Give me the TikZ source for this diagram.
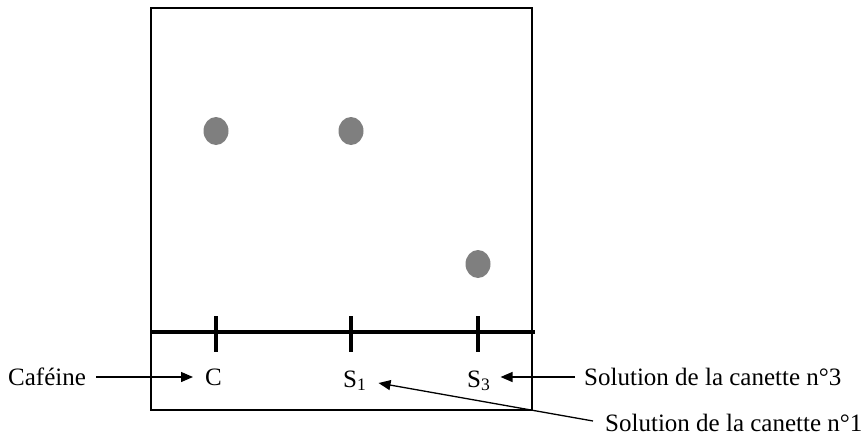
\documentclass[tikz,border=0pt]{standalone}
\usepackage{fontspec}
\setmainfont{Liberation Serif}
\usetikzlibrary{arrows.meta,calc}
\definecolor{spotgray}{HTML}{7F7F7F}
\tikzset{
  lbl/.style={inner sep=0pt, font=\fontsize{25}{30}\selectfont},
  arr/.style={line width=1.3pt, -{Triangle[length=12pt,width=10pt]}},
  spot/.style={fill=spotgray, draw=none},
  tick/.style={line width=4.5pt},
}
\begin{document}
\begin{tikzpicture}[x=1pt,y=-1pt]
\useasboundingbox (0,0) rectangle (867,436);
% plate
\draw[line width=1.8pt] (151,8) rectangle (532,410);
% start line
\draw[tick] (151,332) -- (535,332);
\draw[tick] (216,316) -- (216,352);
\draw[tick] (351,316) -- (351,352);
\draw[tick] (478,316) -- (478,352);
% spots
\fill[spot] (216,131) ellipse [x radius=12.5, y radius=14];
\fill[spot] (351,131) ellipse [x radius=12.5, y radius=14];
\fill[spot] (478,264) ellipse [x radius=12.5, y radius=14];
% labels
\node[lbl, anchor=base west] (caf) at (8,385) {Caféine};
\node[lbl, anchor=base west] (C) at (205,385) {C};
\node[lbl, anchor=base west] (S1) at (343,387) {S\textsubscript{1}};
\node[lbl, anchor=base west] (S3) at (467,387) {S\textsubscript{3}};
\node[lbl, anchor=base west] (sol3) at (584,385) {Solution de la canette n°3};
\node[lbl, anchor=base west] (sol1) at (605,431) {Solution de la canette n°1};
% arrows
\draw[arr] ($(caf.base east)+(10,-8)$) -- ($(C.base west)+(-12,-8)$);
\draw[arr] ($(sol3.base west)+(-9,-8)$) -- ($(S3.base east)+(10,-10)$);
\draw[arr] ($(sol1.base west)+(-12,-10)$) -- ($(S1.base east)+(12,-4)$);
\end{tikzpicture}
\end{document}
